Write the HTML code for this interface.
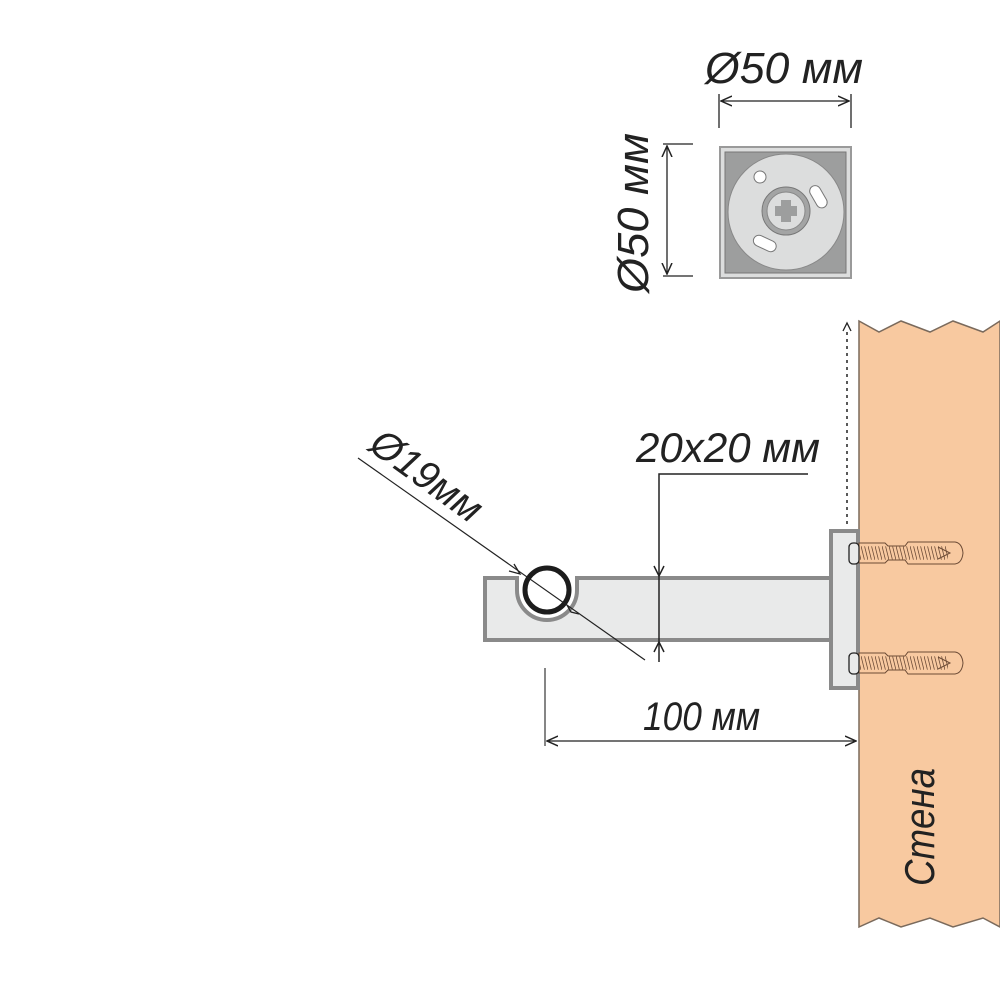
<!DOCTYPE html>
<html><head><meta charset="utf-8"><style>html,body{margin:0;padding:0;background:#fff}svg{display:block}</style></head>
<body>
<svg width="1000" height="1000" viewBox="0 0 1000 1000" xmlns="http://www.w3.org/2000/svg">
<defs>
<marker id="ar" viewBox="0 0 12 12" refX="11" refY="6" markerWidth="12" markerHeight="12" markerUnits="userSpaceOnUse" orient="auto-start-reverse">
<path d="M0,1 L11,6 L0,11" fill="none" stroke="#222" stroke-width="1.5"/>
</marker>
<pattern id="thr" width="3.5" height="14" patternUnits="userSpaceOnUse">
<path d="M0,0 L3.5,14" stroke="#6b4a35" stroke-width="0.8"/>
</pattern>
</defs>
<g font-family="Liberation Sans, sans-serif" font-style="italic" fill="#222">
<rect x="720" y="147" width="131" height="131" fill="#dcdddd" stroke="#9a9a9a" stroke-width="2"/>
<rect x="725" y="152" width="121" height="121" fill="#9d9e9e" stroke="#777" stroke-width="1"/>
<circle cx="786" cy="212" r="58" fill="#dcdddd" stroke="#888" stroke-width="1"/>
<circle cx="760" cy="177" r="6" fill="#fff" stroke="#777" stroke-width="1"/>
<rect x="813" y="185" width="11" height="24" rx="5.5" fill="#fff" stroke="#777" stroke-width="1" transform="rotate(-30 818 197)"/>
<rect x="753" y="238" width="24" height="11" rx="5.5" fill="#fff" stroke="#777" stroke-width="1" transform="rotate(25 765 243)"/>
<circle cx="786" cy="211" r="24" fill="#a3a4a4" stroke="#777" stroke-width="1"/>
<circle cx="786" cy="211" r="19" fill="#dcdddd" stroke="#888" stroke-width="1"/>
<path d="M781,200h10v6h6v10h-6v6h-10v-6h-6v-10h6z" fill="#9d9e9e"/>
<line x1="719" y1="94" x2="719" y2="128" stroke="#222" stroke-width="1.3"/>
<line x1="851" y1="94" x2="851" y2="128" stroke="#222" stroke-width="1.3"/>
<line x1="721" y1="101" x2="849" y2="101" stroke="#222" stroke-width="1.3" marker-start="url(#ar)" marker-end="url(#ar)"/>
<text x="705" y="83" font-size="44" textLength="158" lengthAdjust="spacingAndGlyphs">Ø50 мм</text>
<line x1="663" y1="144" x2="693" y2="144" stroke="#222" stroke-width="1.3"/>
<line x1="663" y1="276" x2="693" y2="276" stroke="#222" stroke-width="1.3"/>
<line x1="667" y1="146" x2="667" y2="274" stroke="#222" stroke-width="1.3" marker-start="url(#ar)" marker-end="url(#ar)"/>
<text transform="translate(648,293) rotate(-90)" font-size="44" textLength="160" lengthAdjust="spacingAndGlyphs">Ø50 мм</text>
<path d="M859,321 L879,332 L901,321 L930,332 L953,321 L983,332 L1000,321 L1000,927 L983,918 L953,927 L930,918 L901,927 L879,918 L859,927 Z" fill="#f8c9a0" stroke="#7a6a5c" stroke-width="1.5"/>
<text transform="translate(934,886) rotate(-90)" font-size="42" textLength="118" lengthAdjust="spacingAndGlyphs">Стена</text>
<line x1="847" y1="332" x2="847" y2="528" stroke="#222" stroke-width="1.5" stroke-dasharray="3,4"/>
<path d="M843,331 L847,323 L851,331" fill="none" stroke="#222" stroke-width="1.3"/>
<path d="M485,578 L517,578 L517,590 A30,30 0 0 0 577,590 L577,578 L832,578 L832,640 L485,640 Z" fill="#e9eaea" stroke="#8a8a8a" stroke-width="4"/>
<circle cx="547" cy="590" r="22" fill="none" stroke="#fff" stroke-width="10"/>
<circle cx="547" cy="590" r="22" fill="none" stroke="#1c1c1c" stroke-width="5"/>
<rect x="831" y="531" width="27" height="157" fill="#e9eaea" stroke="#8a8a8a" stroke-width="4"/>
<g id="scr">
<path d="M859,543 L885,543 L888,546 L905,546 L908,542 L955,542 Q962,543 963,553 Q962,563 955,564 L908,564 L905,560 L888,560 L885,563 L859,563 Z" fill="#f8c9a0" stroke="#6b4a35" stroke-width="1"/>
<rect x="860" y="546" width="88" height="14" fill="url(#thr)"/>
<path d="M938,547 L950,553 L938,559" fill="none" stroke="#6b4a35" stroke-width="1"/>
<rect x="849" y="543" width="10" height="21" rx="4" fill="#e9eaea" stroke="#222" stroke-width="1.3"/>
</g>
<use href="#scr" transform="translate(0,110)"/>
<polyline points="808,474 659,474 659,662" fill="none" stroke="#222" stroke-width="1.5"/>
<path d="M654,566 L659,576 L664,566" fill="none" stroke="#222" stroke-width="1.5"/>
<path d="M654,652 L659,642 L664,652" fill="none" stroke="#222" stroke-width="1.5"/>
<text x="636" y="462" font-size="42" textLength="184" lengthAdjust="spacingAndGlyphs">20x20 мм</text>
<line x1="358" y1="458" x2="645" y2="660" stroke="#222" stroke-width="1.2"/>
<path d="M509,571 L520,574 L514,564" fill="none" stroke="#222" stroke-width="1.3"/>
<path d="M567,605 L571,612 L579,614" fill="none" stroke="#222" stroke-width="1.3"/>
<text transform="translate(367,449) rotate(36)" font-size="40" textLength="128" lengthAdjust="spacingAndGlyphs">Ø19мм</text>
<line x1="545" y1="668" x2="545" y2="746" stroke="#444" stroke-width="1.3"/>
<line x1="547" y1="741" x2="856" y2="741" stroke="#222" stroke-width="1.3" marker-start="url(#ar)" marker-end="url(#ar)"/>
<text x="643" y="730" font-size="40" textLength="117" lengthAdjust="spacingAndGlyphs">100 мм</text>
</g>
</svg>
</body></html>
